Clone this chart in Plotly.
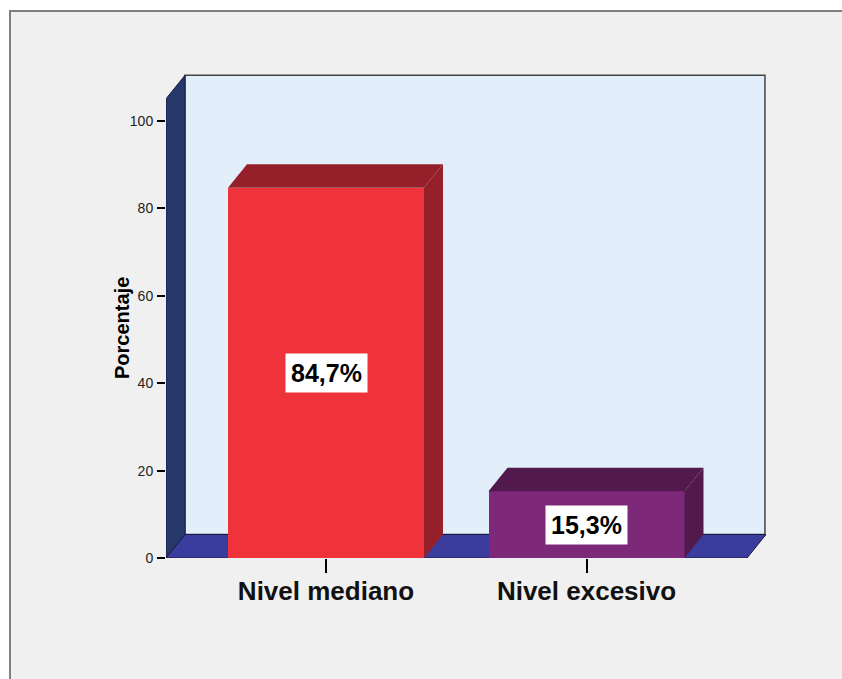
import plotly.graph_objects as go

# ---- data ----
categories = ["Nivel mediano", "Nivel excesivo"]
values = [84.7, 15.3]
labels = ["84,7%", "15,3%"]
y_ticks = [0, 20, 40, 60, 80, 100]

front_colors = ["#f0323a", "#7d2878"]
side_colors = ["#95202a", "#521a4c"]
top_colors = ["#95202a", "#521a4c"]

# ---- geometry ----
W, H = 842, 679
L, R, T, B = 166, 76, 74, 121
plot_w = W - L - R
plot_h = H - T - B
px_per_y = 4.37
px_per_x = 260.5
ymax = plot_h / px_per_y
xmin = -(326 - L) / px_per_x
xmax = xmin + plot_w / px_per_x
dx = 19 / px_per_x
dy = 23.5 / px_per_y
bar_w = 196 / px_per_x

xs = list(range(len(categories)))

fig = go.Figure()
fig.add_trace(go.Bar(
    x=xs, y=values, width=bar_w,
    marker=dict(color=front_colors, line=dict(width=0)),
    hoverinfo="skip", showlegend=False,
))

px2x = lambda p: (p - L) / plot_w
px2y = lambda p: (H - B - p) / plot_h

shapes = []
# outer frame: grey fill with left and top borders (right/bottom lie outside the picture)
shapes.append(dict(type="rect", xref="paper", yref="paper", layer="below",
                   x0=px2x(10), x1=px2x(W + 30), y0=px2y(H + 30), y1=px2y(11),
                   fillcolor="#f0f0f0", line=dict(width=0)))
shapes.append(dict(type="line", xref="paper", yref="paper", layer="below",
                   x0=px2x(10), x1=px2x(10), y0=px2y(H + 30), y1=px2y(10),
                   line=dict(color="#808080", width=2)))
shapes.append(dict(type="line", xref="paper", yref="paper", layer="below",
                   x0=px2x(9), x1=px2x(W + 30), y0=px2y(11), y1=px2y(11),
                   line=dict(color="#808080", width=2)))
# back wall
shapes.append(dict(type="rect", xref="x", yref="y", layer="below",
                   x0=xmin + dx, x1=xmax - 0.004, y0=dy, y1=ymax - 0.3,
                   fillcolor="#e2eefa", line=dict(color="#444444", width=1.5)))
# left wall
shapes.append(dict(type="path", xref="x", yref="y", layer="below",
                   path=f"M {xmin},0 L {xmin+dx},{dy} L {xmin+dx},{ymax-0.3} L {xmin},{ymax-0.3-dy} Z",
                   fillcolor="#26376a", line=dict(color="#1a2040", width=1)))
# floor
shapes.append(dict(type="path", xref="x", yref="y", layer="below",
                   path=f"M {xmin},0 L {xmax-dx},0 L {xmax},{dy} L {xmin+dx},{dy} Z",
                   fillcolor="#3a3c9e", line=dict(color="#1a1a40", width=1)))

# bar side and top faces
for xc, v, sc, tc in zip(xs, values, side_colors, top_colors):
    xl, xr = xc - bar_w / 2, xc + bar_w / 2
    shapes.append(dict(type="path", xref="x", yref="y", layer="above",
                       path=f"M {xr},0 L {xr+dx},{dy} L {xr+dx},{v+dy} L {xr},{v} Z",
                       fillcolor=sc, line=dict(width=0)))
    shapes.append(dict(type="path", xref="x", yref="y", layer="above",
                       path=f"M {xl},{v} L {xl+dx},{v+dy} L {xr+dx},{v+dy} L {xr},{v} Z",
                       fillcolor=tc, line=dict(width=0)))

annotations = []
for xc, v, lab in zip(xs, values, labels):
    annotations.append(dict(x=xc, y=v / 2, xref="x", yref="y", text=lab,
                            showarrow=False, bgcolor="white", borderpad=5,
                            bordercolor="rgba(0,0,0,0)",
                            font=dict(family="Liberation Sans", size=25, color="black", weight="bold")))
annotations.append(dict(x=px2x(109), y=px2y(328),
                        xref="paper", yref="paper", text="Porcentaje", textangle=-90,
                        showarrow=False,
                        font=dict(family="Liberation Sans", size=20, color="black", weight="bold")))

fig.update_layout(
    width=W, height=H,
    margin=dict(l=L, r=R, t=T, b=B, pad=0),
    paper_bgcolor="white",
    plot_bgcolor="rgba(0,0,0,0)",
    shapes=shapes,
    annotations=annotations,
    bargap=0,
    hovermode=False,
    xaxis=dict(range=[xmin, xmax], tickvals=xs, ticktext=categories,
               ticks="outside", ticklen=14, tickcolor="black", tickwidth=1.5,
               ticklabelstandoff=-4, fixedrange=True,
               showgrid=False, zeroline=False, showline=False,
               tickfont=dict(family="Liberation Sans", size=26, color="#111111", weight="bold")),
    yaxis=dict(range=[0, ymax], tickvals=y_ticks,
               ticks="outside", ticklen=8, tickcolor="black", tickwidth=1.5,
               ticklabelstandoff=1, fixedrange=True,
               showgrid=False, zeroline=False, showline=False,
               tickfont=dict(family="Liberation Sans", size=14, color="#222222")),
)

fig.write_html("out.html", config={"displayModeBar": False},
               post_script="document.body.style.margin='0';document.body.style.overflow='hidden';")
